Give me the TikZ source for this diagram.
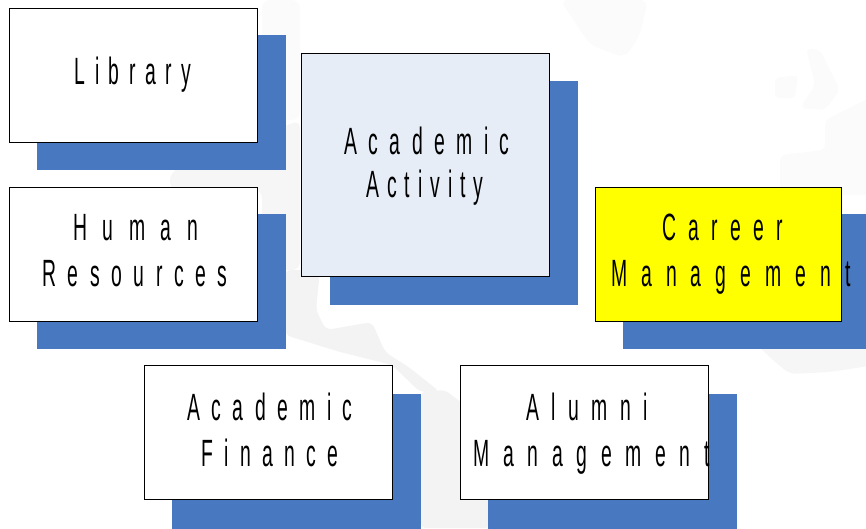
\documentclass[tikz,border=0pt]{standalone}
\usepackage{fontspec}
\usetikzlibrary{positioning}
\newfontfamily\boxfont[FakeStretch=0.51]{Liberation Sans}
% letter spacing, sideways shift, word
\newcommand{\spaced}[3]{\hspace*{#2pt}{\addfontfeature{LetterSpace=#1}#3}\strut}
\newcommand{\lowerline}{\rule{0pt}{36pt}}
\definecolor{shadowblue}{HTML}{4878C0}
\definecolor{activityblue}{HTML}{E7EDF7}
\definecolor{mapgray}{HTML}{F3F3F3}
\definecolor{maplight}{HTML}{F6F6F6}
\definecolor{mapfaint}{HTML}{FBFBFB}
\definecolor{boxyellow}{rgb}{1,1,0}

\begin{document}
\begin{tikzpicture}[x=1pt,y=-1pt,node distance=179pt,
    shadowbox/.style={rectangle, fill=shadowblue, minimum width=249pt, minimum height=135pt, inner sep=0pt},
    infobox/.style={rectangle, draw=black, fill=white, semithick, minimum width=248pt, minimum height=134pt,
                    text width=248pt, inner sep=0pt, align=center, xshift=-28.5pt, yshift=27.5pt,
                    font=\boxfont\fontsize{38}{46}\selectfont}]
    \useasboundingbox (0,0) rectangle (866,528);

    % faint map behind everything
    \fill[mapfaint, rounded corners=8pt] (262,0) -- (300,0) -- (300,120) -- (262,120) -- cycle;
    \fill[maplight, rounded corners=8pt] (170,172) -- (300,120) -- (300,270) -- (262,270) -- (262,190) -- (170,190) -- cycle;
    \fill[mapgray, rounded corners=6pt] (285,270) -- (320,270) -- (316,310) -- (326,330) -- (372,322) -- (385,352) -- (410,368) -- (440,392) -- (420,392) -- (392,365) -- (340,352) -- (285,335) -- cycle;
    \fill[mapgray, rounded corners=4pt] (421,392) -- (445,390) -- (462,403) -- (490,420) -- (490,528) -- (421,528) -- cycle;
    \fill[mapfaint, rounded corners=8pt] (560,0) -- (648,0) -- (640,35) -- (625,58) -- (590,45) -- cycle;
    \fill[mapfaint, rounded corners=5pt] (806,48) -- (820,50) -- (840,90) -- (825,110) -- (800,108) -- (815,85) -- cycle;
    \fill[mapfaint, rounded corners=4pt] (775,78) -- (798,75) -- (795,98) -- (775,98) -- cycle;
    \fill[mapfaint, rounded corners=6pt] (875,95) -- (875,195) -- (780,195) -- (780,155) -- (825,150) -- (825,120) -- cycle;
    \fill[maplight, rounded corners=6pt] (757,345) -- (875,345) -- (875,365) -- (830,372) -- (790,374) -- (775,362) -- cycle;

    % shadows first
    \node[shadowbox]   (libraryshadow)                    at (161.5,102.5) {};
    \node[shadowbox]   (humanshadow)  [below of=libraryshadow] {};
    \node[shadowbox, minimum width=248pt, minimum height=224pt] (activityshadow) at (454,192.5) {};
    \node[shadowbox]   (careershadow) [right of=humanshadow, node distance=585.5pt] {};
    \node[shadowbox]   (financeshadow) at (296.5,461.5) {};
    \node[shadowbox]   (alumnishadow) [right of=financeshadow, node distance=316pt] {};

    \node[infobox] (library) at (libraryshadow) {\spaced{25}{0}{Library}};
    \node[infobox] (human) at (humanshadow) {\spaced{41}{5}{Human}\\\spaced{30.5}{4}{Resources}};
    \node[infobox, fill=activityblue, minimum height=223pt, xshift=-0.5pt, yshift=0.5pt] (activity) at (activityshadow)
        {\lowerline\spaced{30}{4}{Academic}\\[-3pt]\spaced{21}{0}{Activity}\\[30pt]};
    \node[infobox, fill=boxyellow, minimum width=246pt, text width=246pt, xshift=-0.5pt] (career) at (careershadow)
        {\spaced{32.5}{9}{Career}\\\spaced{37}{16}{Management}};
    \node[infobox, yshift=2pt] (finance) at (financeshadow) {\lowerline\spaced{30}{4}{Academic}\\\spaced{30}{4}{Finance}};
    \node[infobox, yshift=2pt, xshift=0.5pt] (alumni) at (alumnishadow) {\lowerline\spaced{32.5}{5}{Alumni}\\\spaced{36}{13}{Management}};
\end{tikzpicture}
\end{document}
